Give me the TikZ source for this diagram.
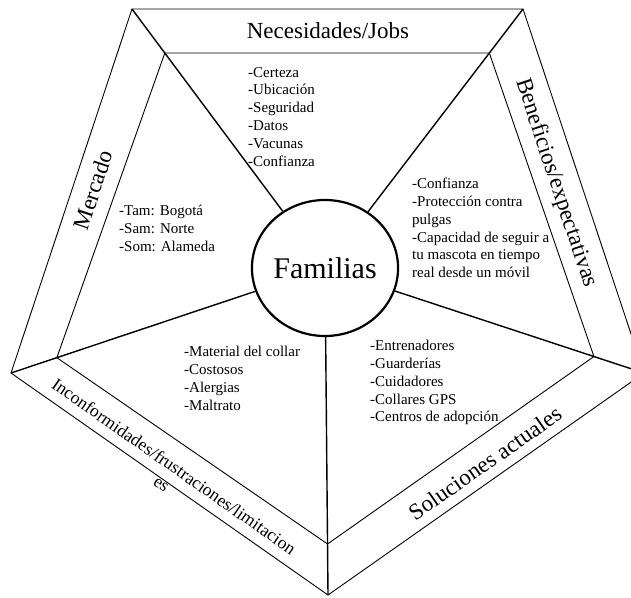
\documentclass[tikz,border=0pt]{standalone}
\usepackage{fontspec}
\setmainfont{Liberation Serif}
\usetikzlibrary{shapes.geometric,calc}

\begin{document}
\begin{tikzpicture}[x=1pt,y=-1pt,
    borde/.style={line width=0.9pt},
    radio/.style={line width=1.4pt},
    lista/.style={align=left,anchor=north west,inner sep=0pt,font=\fontsize{15}{17.8}\selectfont},
    banda/.style={inner sep=0pt,font=\fontsize{23}{27}\selectfont}]
    \clip (0,0) rectangle (631,597);
    \node[ellipse,draw,line width=2.2pt,minimum width=124pt,minimum height=136pt,inner sep=0pt,font=\fontsize{30}{36}\selectfont] (fam) at (325,268) {Familias};
    \coordinate (tl) at (132,9);
    \coordinate (tr) at (523,9);
    \coordinate (r) at (644,373);
    \coordinate (b) at (328,595);
    \coordinate (l) at (11,373);
    \coordinate (itl) at ($(tl)!0.17!(fam.center)$);
    \coordinate (itr) at ($(tr)!0.17!(fam.center)$);
    \coordinate (ir) at ($(r)!0.157!(fam.center)$);
    \coordinate (ib) at ($(b)!0.156!(fam.center)$);
    \coordinate (il) at ($(l)!0.146!(fam.center)$);
    \draw[borde] (tl) -- (tr) -- (r) -- (b) -- (l) -- cycle;
    \draw[borde] (itl) -- (itr) -- (ir) -- (ib) -- (il) -- cycle;
    \draw[radio] (fam) -- (tl);
    \draw[radio] (fam) -- (tr);
    \draw[radio] (fam) -- (r);
    \draw[radio] (fam) -- (b);
    \draw[radio] (fam) -- (l);
    \node[banda] (nec) at (328,31) {Necesidades/Jobs};
    \node[banda,rotate=71.6] (mer) at (93,190) {Mercado};
    \node[banda,rotate=-71.6] (ben) at (556,183) {Beneficios/expectativas};
    \node[banda,rotate=35] (sol) at (485,463) {Soluciones actuales};
    \node[inner sep=0pt,rotate=-35,align=center,font=\fontsize{17.7}{21}\selectfont] (inc) at (168,475) {Inconformidades/frustraciones/limitacion\\es};
    \node[lista] (necl) at (248,67) {-Certeza\\-Ubicación\\-Seguridad\\-Datos\\-Vacunas\\-Confianza};
    \node[lista] (merl) at (119,205) {-Tam: Bogotá\\-Sam: Norte\\-Som: Alameda};
    \node[lista] (benl) at (412,178) {-Confianza\\-Protección contra\\pulgas\\-Capacidad de seguir a\\tu mascota en tiempo\\real desde un móvil};
    \node[lista] (incl) at (184,346) {-Material del collar\\-Costosos\\-Alergias\\-Maltrato};
    \node[lista] (soll) at (370,340) {-Entrenadores\\-Guarderías\\-Cuidadores\\-Collares GPS\\-Centros de adopción};
\end{tikzpicture}
\end{document}
